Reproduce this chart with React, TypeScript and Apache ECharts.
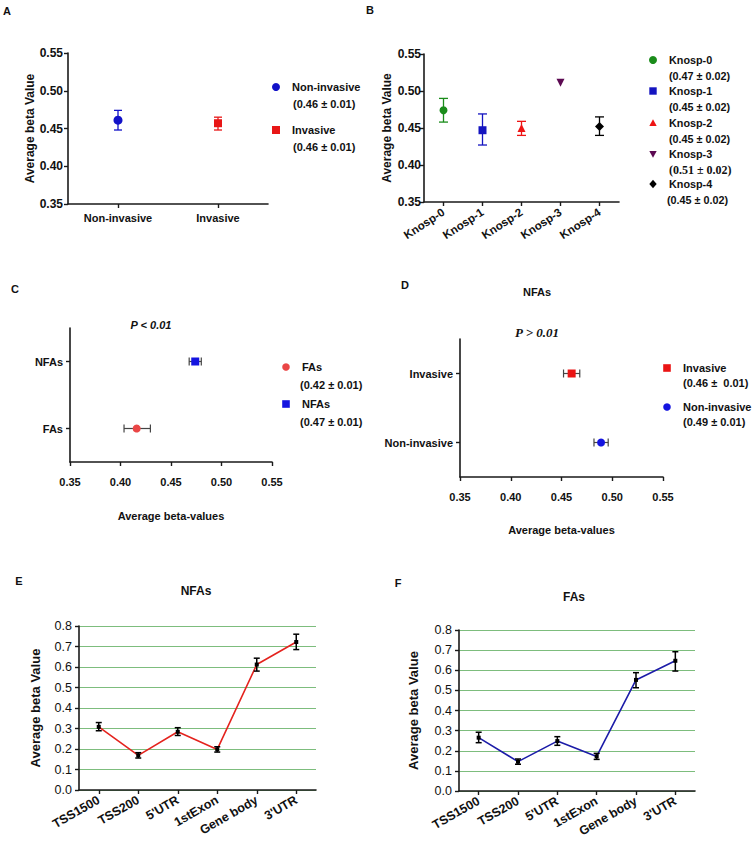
import React, { useEffect, useRef } from "react";
import * as echarts from "echarts";

// ---------- DATA ----------
const catsA = ["Non-invasive", "Invasive"];
const meanA = [0.461, 0.457];
const lowA = [0.448, 0.448];
const highA = [0.474, 0.465];
const statA = ["(0.46 ± 0.01)", "(0.46 ± 0.01)"];

const catsB = ["Knosp-0", "Knosp-1", "Knosp-2", "Knosp-3", "Knosp-4"];
const meanB = [0.474, 0.447, 0.45, 0.511, 0.452];
const lowB = [0.458, 0.427, 0.44, null, 0.44];
const highB = [0.49, 0.469, 0.459, null, 0.465];
const statB = ["(0.47 ± 0.02)", "(0.45 ± 0.02)", "(0.45 ± 0.02)", "(0.51 ± 0.02)", "(0.45 ± 0.02)"];

const catsC = ["FAs", "NFAs"];
const meanC = [0.416, 0.474];
const lowC = [0.4035, 0.468];
const highC = [0.4296, 0.48];
const statC = ["(0.42 ± 0.01)", "(0.47 ± 0.01)"];

const catsD = ["Non-invasive", "Invasive"];
const meanD = [0.489, 0.46];
const lowD = [0.482, 0.452];
const highD = [0.496, 0.468];
const statD = ["(0.49 ± 0.01)", "(0.46 ±  0.01)"];

const regions = ["TSS1500", "TSS200", "5'UTR", "1stExon", "Gene body", "3'UTR"];
const meanE = [0.308, 0.169, 0.284, 0.198, 0.612, 0.722];
const lowE = [0.289, 0.156, 0.266, 0.185, 0.58, 0.685];
const highE = [0.329, 0.182, 0.304, 0.211, 0.643, 0.76];

const meanF = [0.265, 0.146, 0.248, 0.172, 0.552, 0.647];
const lowF = [0.24, 0.133, 0.227, 0.157, 0.513, 0.596];
const highF = [0.292, 0.159, 0.27, 0.187, 0.588, 0.692];

const pC = "P < 0.01";
const pD = "P > 0.01";
const yTitle = "Average beta Value";
const xTitleCD = "Average beta-values";

// ---------- STYLE ----------
const SANS = "'Liberation Sans', Arial, Helvetica, sans-serif";
const SERIF = "'Liberation Serif', 'Times New Roman', serif";
const INK = "#1a1a1a";
const BLUE = "#1212c8";
const RED = "#e81616";
const GREEN_GRID = "#7dbd7d";

const axisLine = { show: true, lineStyle: { color: INK, width: 1.6 } };
const axisTick = { show: true, length: 4, lineStyle: { color: INK, width: 1.4 } };
const boldLabel = (size: number, extra: any = {}) => ({
  fontFamily: SANS,
  fontWeight: "bold",
  fontSize: size,
  color: "#111",
  ...extra,
});

function errRender(horizontal: boolean, cap: number, color: string, width: number) {
  return (params: any, api: any) => {
    const c = api.value(0);
    const lo = api.value(1);
    const hi = api.value(2);
    const a = horizontal ? api.coord([lo, c]) : api.coord([c, lo]);
    const b = horizontal ? api.coord([hi, c]) : api.coord([c, hi]);
    const style = { stroke: color, lineWidth: width, fill: null };
    const children: any[] = [
      { type: "line", shape: { x1: a[0], y1: a[1], x2: b[0], y2: b[1] }, style },
    ];
    [a, b].forEach((p: number[]) => {
      children.push(
        horizontal
          ? { type: "line", shape: { x1: p[0], y1: p[1] - cap, x2: p[0], y2: p[1] + cap }, style }
          : { type: "line", shape: { x1: p[0] - cap, y1: p[1], x2: p[0] + cap, y2: p[1] }, style }
      );
    });
    return { type: "group", children };
  };
}

function errSeries(
  axisIdx: number,
  data: any[],
  horizontal: boolean,
  cap: number,
  color: string,
  width: number
) {
  return {
    type: "custom",
    xAxisIndex: axisIdx,
    yAxisIndex: axisIdx,
    renderItem: errRender(horizontal, cap, color, width),
    encode: horizontal ? { x: [1, 2], y: 0 } : { x: 0, y: [1, 2] },
    data,
    z: 2,
    silent: true,
  };
}

function scatter(axisIdx: number, name: string, data: any[], symbol: string, size: number, color: string, rotate = 0) {
  return {
    type: "scatter",
    name,
    xAxisIndex: axisIdx,
    yAxisIndex: axisIdx,
    symbol,
    symbolSize: size,
    symbolRotate: rotate,
    itemStyle: { color, opacity: 1 },
    data,
    z: 3,
  };
}

// legend helpers (graphic)
function marker(kind: string, x: number, y: number, color: string, s = 4) {
  if (kind === "circle") return { type: "circle", shape: { cx: x, cy: y, r: s }, style: { fill: color } };
  if (kind === "rect") return { type: "rect", shape: { x: x - s, y: y - s, width: 2 * s, height: 2 * s }, style: { fill: color } };
  if (kind === "triangle")
    return { type: "polygon", shape: { points: [[x, y - s], [x + s, y + s * 0.8], [x - s, y + s * 0.8]] }, style: { fill: color } };
  if (kind === "triangleDown")
    return { type: "polygon", shape: { points: [[x - s, y - s * 0.8], [x + s, y - s * 0.8], [x, y + s]] }, style: { fill: color } };
  return { type: "polygon", shape: { points: [[x, y - s - 0.5], [x + s, y], [x, y + s + 0.5], [x - s, y]] }, style: { fill: color } };
}
function txt(text: string, x: number, y: number, size: number, opts: any = {}) {
  return {
    type: "text",
    x,
    y,
    style: {
      text,
      fontFamily: opts.family || SANS,
      fontWeight: opts.weight || "bold",
      fontStyle: opts.style || "normal",
      fontSize: size,
      fill: opts.color || "#111",
      align: opts.align || "left",
      verticalAlign: "middle",
    },
  };
}

export default function App() {
  const ref = useRef<HTMLDivElement>(null);

  useEffect(() => {
    document.body.style.margin = "0";
    if (!ref.current) return;
    const chart = echarts.init(ref.current, null, { renderer: "svg" });

    const grids = [
      { left: 68, top: 53, width: 200, height: 151 },
      { left: 424, top: 54, width: 195, height: 148 },
      { left: 70, top: 328, width: 202, height: 134 },
      { left: 460, top: 339, width: 203, height: 138 },
      { left: 79, top: 626, width: 237, height: 164 },
      { left: 459, top: 630, width: 236, height: 161 },
    ];

    const valAxis2 = (idx: number, extra: any = {}) => ({
      gridIndex: idx,
      type: "value",
      min: 0.35,
      max: 0.55,
      interval: 0.05,
      axisLine,
      axisTick,
      splitLine: { show: false },
      axisLabel: { ...boldLabel(12), margin: 5, formatter: (v: number) => v.toFixed(2) },
      ...extra,
    });
    const catAxis = (idx: number, data: string[], label: any, extra: any = {}) => ({
      gridIndex: idx,
      type: "category",
      data,
      boundaryGap: true,
      axisLine,
      axisTick: { ...axisTick, alignWithLabel: true },
      splitLine: { show: false },
      axisLabel: { ...label, interval: 0 },
      ...extra,
    });
    const regionVal = (idx: number, gap: number) => ({
      gridIndex: idx,
      type: "value",
      min: 0,
      max: 0.8,
      interval: 0.1,
      axisLine,
      axisTick,
      splitLine: { show: true, lineStyle: { color: GREEN_GRID, width: 1.2 } },
      axisLabel: { fontFamily: SANS, fontSize: 12.5, color: "#111", margin: 7, formatter: (v: number) => v.toFixed(1) },
      name: yTitle,
      nameLocation: "middle",
      nameGap: gap,
      nameRotate: 90,
      nameTextStyle: boldLabel(13),
    });

    const xAxis = [
      catAxis(0, catsA, { ...boldLabel(11), margin: 8 }),
      catAxis(1, catsB, { ...boldLabel(11.5), margin: 9, rotate: 33 }),
      valAxis2(2, {
        axisLabel: { ...boldLabel(11), margin: 14, formatter: (v: number) => v.toFixed(2) },
        name: xTitleCD,
        nameLocation: "middle",
        nameGap: 48,
        nameTextStyle: boldLabel(11),
      }),
      valAxis2(3, {
        axisLabel: { ...boldLabel(11), margin: 14, formatter: (v: number) => v.toFixed(2) },
        name: xTitleCD,
        nameLocation: "middle",
        nameGap: 47,
        nameTextStyle: boldLabel(11),
      }),
      catAxis(4, regions, { ...boldLabel(12.5), margin: 9, rotate: 30 }),
      catAxis(5, regions, { ...boldLabel(12.5), margin: 9, rotate: 30 }),
    ];

    const yAxis = [
      valAxis2(0, { name: yTitle, nameLocation: "middle", nameGap: 30, nameRotate: 90, nameTextStyle: boldLabel(12) }),
      valAxis2(1, {
        axisLabel: { ...boldLabel(12), margin: 3, formatter: (v: number) => v.toFixed(2) },
        name: yTitle,
        nameLocation: "middle",
        nameGap: 31,
        nameRotate: 90,
        nameTextStyle: boldLabel(12),
      }),
      catAxis(2, catsC, { ...boldLabel(11), margin: 7 }),
      catAxis(3, catsD, { ...boldLabel(11), margin: 7 }),
      regionVal(4, 37),
      regionVal(5, 39),
    ];

    const series: any[] = [];

    // Panel A
    const colA = [BLUE, RED];
    const symA = ["circle", "rect"];
    catsA.forEach((c, i) => {
      series.push(errSeries(0, [[i, lowA[i], highA[i]]], false, 4, colA[i], 1.3));
      series.push(scatter(0, c, [[i, meanA[i]]], symA[i], i === 0 ? 9 : 8, colA[i]));
    });

    // Panel B
    const colB = ["#1a8c1a", "#1414c0", "#ee1414", "#5c0a52", "#000000"];
    const symB = ["circle", "rect", "triangle", "triangle", "diamond"];
    const rotB = [0, 0, 0, 180, 0];
    catsB.forEach((c, i) => {
      if (lowB[i] != null && highB[i] != null)
        series.push(errSeries(1, [[i, lowB[i], highB[i]]], false, 4.5, colB[i], 1.3));
      series.push(scatter(1, c, [[i, meanB[i]]], symB[i], i === 4 ? 9 : 8, colB[i], rotB[i]));
    });

    // Panel C
    const colC = ["#ea4646", "#1414e0"];
    const symC = ["circle", "rect"];
    catsC.forEach((c, i) => {
      series.push(errSeries(2, [[i, lowC[i], highC[i]]], true, 4, "#444", 1.2));
      series.push(scatter(2, c, [[meanC[i], i]], symC[i], 8, colC[i]));
    });

    // Panel D
    const colD = ["#1414e0", "#ea1414"];
    const symD = ["circle", "rect"];
    catsD.forEach((c, i) => {
      series.push(errSeries(3, [[i, lowD[i], highD[i]]], true, 4, "#444", 1.2));
      series.push(scatter(3, c, [[meanD[i], i]], symD[i], 8, colD[i]));
    });

    // Panel E & F
    const lineSeries = (idx: number, name: string, mean: number[], color: string) => ({
      type: "line",
      name,
      xAxisIndex: idx,
      yAxisIndex: idx,
      data: mean,
      symbol: "rect",
      symbolSize: 4,
      showSymbol: true,
      itemStyle: { color: "#000" },
      lineStyle: { color, width: 1.6 },
      z: 2,
    });
    series.push(lineSeries(4, "NFAs", meanE, "#e4231e"));
    series.push(errSeries(4, regions.map((_, i) => [i, lowE[i], highE[i]]), false, 3, "#000", 1.5));
    series.push(lineSeries(5, "FAs", meanF, "#1c1ca8"));
    series.push(errSeries(5, regions.map((_, i) => [i, lowF[i], highF[i]]), false, 3, "#000", 1.5));
    series.forEach((s) => {
      if (s.type === "custom") s.z = s.xAxisIndex >= 4 ? 3 : 2;
    });

    // graphic: panel letters, titles, legends
    const g: any[] = [];
    [["A", 7, 11], ["B", 370, 10], ["C", 15, 289], ["D", 405, 285], ["E", 19, 581], ["F", 398, 583]].forEach(
      ([t, x, y]: any) => g.push(txt(t, x, y, 11, { align: "center" }))
    );
    g.push(txt("NFAs", 537, 292, 11, { align: "center" }));
    g.push(txt("NFAs", 196, 591, 12, { align: "center" }));
    g.push(txt("FAs", 574, 597, 12, { align: "center" }));
    g.push(txt(pC, 151, 325, 11, { align: "center", style: "italic" }));
    g.push(txt(pD, 537, 332, 13, { align: "center", style: "italic", family: SERIF }));

    // Legend A
    const legA = [87, 130];
    catsA.forEach((c, i) => {
      g.push(marker(symA[i], 276, legA[i], colA[i], 4));
      g.push(txt(c, 292, legA[i], 11));
      g.push(txt(statA[i], 293, legA[i] + 16.5, 11));
    });
    // Legend B
    const legB = [60, 91, 123, 154, 184];
    const kindB = ["circle", "rect", "triangle", "triangleDown", "diamond"];
    catsB.forEach((c, i) => {
      g.push(marker(kindB[i], 653, legB[i], colB[i], i === 0 ? 4 : 3.7));
      g.push(txt(c, 669, legB[i], 10.8));
      g.push(
        txt(statB[i], i === 4 ? 667 : 669, legB[i] + 16, i === 3 ? 12 : 10.8, i === 3 ? { family: SERIF } : {})
      );
    });
    // Legend C
    const legC = [367, 404];
    catsC.forEach((c, i) => {
      g.push(marker(symC[i], 286, legC[i], colC[i], 3.8));
      g.push(txt(c, 302, legC[i], 11));
      g.push(txt(statC[i], 300, legC[i] + 18, 11));
    });
    // Legend D (Invasive first)
    const legDOrder = [1, 0];
    const legDy = [368, 407];
    legDOrder.forEach((ci, k) => {
      g.push(marker(symD[ci], 667, legDy[k], colD[ci], 3.8));
      g.push(txt(catsD[ci], 683, legDy[k], 11));
      g.push(txt(statD[ci], 683, legDy[k] + 14.5, 11));
    });

    chart.setOption({
      animation: false,
      backgroundColor: "#ffffff",
      textStyle: { fontFamily: SANS },
      grid: grids,
      xAxis,
      yAxis,
      series,
      graphic: g,
    });

    return () => chart.dispose();
  }, []);

  return <div ref={ref} style={{ width: 754, height: 845 }} />;
}
